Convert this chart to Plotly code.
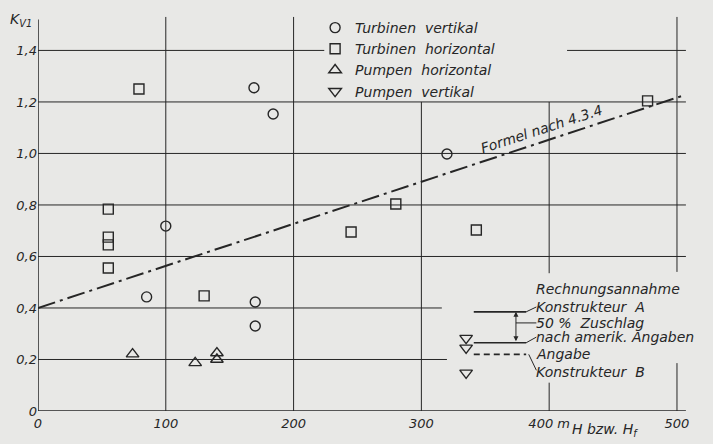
"""K_V1 ueber Fallhoehe H: Messpunkte, Formel nach 4.3.4 und Rechnungsannahmen."""

import plotly.graph_objects as go

INK = "#262626"
PAPER = "#e8e8e6"
FONT = "DejaVu Sans"

# Turbinen vertikal (Kreise)
tv_h = [100, 85, 169, 184, 170, 170, 320]
tv_k = [0.718, 0.443, 1.255, 1.153, 0.423, 0.33, 0.998]

# Turbinen horizontal (Quadrate)
th_h = [79, 55, 55, 55, 55, 130, 245, 280, 343, 477]
th_k = [1.25, 0.784, 0.675, 0.645, 0.555, 0.447, 0.695, 0.804, 0.703, 1.204]

# Pumpen horizontal (Dreieck oben)
ph_h = [74, 123, 140, 140]
ph_k = [0.221, 0.187, 0.225, 0.200]

# Pumpen vertikal (Dreieck unten)
pv_h = [335, 335, 335]
pv_k = [0.283, 0.245, 0.148]

# Formel nach 4.3.4
formel_h = [0, 505]
formel_k = [0.40, 1.225]

# Rechnungsannahmen rechts
ref_h = [341, 382]
konst_a_k = 0.385
amerik_k = 0.265
konst_b_k = 0.22

x_ticks = [0, 100, 200, 300, 400, 500]
x_labels = ["0", "100", "200", "300", "400 m", "500"]
y_ticks = [0, 0.2, 0.4, 0.6, 0.8, 1.0, 1.2, 1.4]
y_labels = ["0", "0,2", "0,4", "0,6", "0,8", "1,0", "1,2", "1,4"]

fig = go.Figure()

marker_line = {"color": INK, "width": 1.4}
fig.add_trace(go.Scatter(x=tv_h, y=tv_k, mode="markers", name="Turbinen  vertikal",
                         marker={"symbol": "circle-open", "size": 10, "line": marker_line, "color": INK}))
fig.add_trace(go.Scatter(x=th_h, y=th_k, mode="markers", name="Turbinen  horizontal",
                         marker={"symbol": "square-open", "size": 10, "line": marker_line, "color": INK}))
fig.add_trace(go.Scatter(x=ph_h, y=ph_k, mode="markers", name="Pumpen  horizontal",
                         marker={"symbol": "triangle-up-open", "size": 11, "line": marker_line, "color": INK}))
fig.add_trace(go.Scatter(x=pv_h, y=pv_k, mode="markers", name="Pumpen  vertikal",
                         marker={"symbol": "triangle-down-open", "size": 11, "line": marker_line, "color": INK}))

fig.add_trace(go.Scatter(x=formel_h, y=formel_k, mode="lines", showlegend=False,
                         line={"color": INK, "width": 2, "dash": "18px,5px,3px,5px"}))

# Referenzlinien
for k, dash in [(konst_a_k, "solid"), (amerik_k, "solid"), (konst_b_k, "6px,4px")]:
    fig.add_trace(go.Scatter(x=ref_h, y=[k, k], mode="lines", showlegend=False,
                             line={"color": INK, "width": 1.6, "dash": dash}))

# Gitter (teilweise unterbrochen wie im Original)
grid_h = [(0.2, 0, 320), (0.4, 0, 316), (0.6, 0, 507), (0.8, 0, 507), (1.0, 0, 507),
          (1.2, 0, 507), (1.4, 0, 224), (1.4, 414, 507)]
grid_v = [(100, 0, 1.53), (200, 0, 1.53), (300, 0, 1.2), (400, 0.535, 1.2), (400, 0, 0.11),
          (500, 0.54, 1.53), (500, 0, 0.186)]
shapes = []
for k, h0, h1 in grid_h:
    shapes.append(dict(type="line", xref="x", yref="y", x0=h0, x1=h1, y0=k, y1=k,
                       line={"color": INK, "width": 1}))
for h, k0, k1 in grid_v:
    shapes.append(dict(type="line", xref="x", yref="y", x0=h, x1=h, y0=k0, y1=k1,
                       line={"color": INK, "width": 1}))
# Achsen
shapes.append(dict(type="line", xref="x", yref="y", x0=0, x1=507, y0=0, y1=0,
                   line={"color": INK, "width": 1.5}))
shapes.append(dict(type="line", xref="x", yref="y", x0=0, x1=0, y0=0, y1=1.52,
                   line={"color": INK, "width": 1.5}))
# Hinweislinien zu den Texten
shapes.append(dict(type="line", xref="x", yref="y", x0=382, x1=390, y0=konst_a_k, y1=0.404,
                   line={"color": INK, "width": 1}))
shapes.append(dict(type="line", xref="x", yref="y", x0=382, x1=390, y0=amerik_k, y1=0.287,
                   line={"color": INK, "width": 1}))
shapes.append(dict(type="line", xref="x", yref="y", x0=374, x1=390, y0=0.342, y1=0.342,
                   line={"color": INK, "width": 1}))
shapes.append(dict(type="line", xref="x", yref="y", x0=384, x1=390, y0=konst_b_k, y1=0.158,
                   line={"color": INK, "width": 1}))

text_font = {"family": FONT, "size": 14, "color": INK, "style": "italic"}

annotations = [
    dict(x=374, y=konst_a_k, ax=374, ay=amerik_k, xref="x", yref="y", axref="x", ayref="y",
         text="", showarrow=True, arrowhead=2, arrowside="end+start", arrowsize=1,
         arrowwidth=1, arrowcolor=INK),
    dict(x=394, y=1.095, xref="x", yref="y", text="Formel nach 4.3.4", showarrow=False,
         textangle=-18, font=text_font),
    dict(x=0, y=1.52, xref="paper", yref="y", text="K<sub>V1</sub>", showarrow=False,
         xanchor="right", xshift=-4, font=text_font),
    dict(x=444, y=-0.047, xref="x", yref="paper", text="H bzw. H<sub>f</sub>", showarrow=False,
         yanchor="middle", font=text_font),
]
ref_texts = [
    (0.474, "Rechnungsannahme"),
    (0.404, "Konstrukteur  A"),
    (0.342, "50 %  Zuschlag"),
    (0.287, "nach amerik. Angaben"),
    (0.221, "Angabe"),
    (0.151, "Konstrukteur  B"),
]
for k, t in ref_texts:
    annotations.append(dict(x=388, y=k, xref="x", yref="y", text=t, showarrow=False,
                            xanchor="left", font=text_font))

tick_font = {"family": FONT, "size": 13, "color": INK, "style": "italic"}

fig.update_layout(
    width=713,
    height=444,
    margin={"l": 38, "r": 23, "t": 10, "b": 33},
    paper_bgcolor=PAPER,
    plot_bgcolor=PAPER,
    font={"family": FONT, "color": INK},
    xaxis={"range": [0, 510.2], "showgrid": False, "zeroline": False, "showline": False,
           "tickvals": x_ticks, "ticktext": x_labels, "tickfont": tick_font, "ticks": "",
           "automargin": False, "ticklabelstandoff": 3},
    yaxis={"range": [0, 1.557], "showgrid": False, "zeroline": False, "showline": False,
           "tickvals": y_ticks, "ticktext": y_labels, "tickfont": tick_font, "ticks": "",
           "automargin": False},
    legend={"x": 0.425, "y": 0.995, "xanchor": "left", "yanchor": "top",
            "bgcolor": "rgba(0,0,0,0)", "font": tick_font | {"size": 14}, "tracegroupgap": 0},
    shapes=shapes,
    annotations=annotations,
    showlegend=True,
)

# Seitenrand des Browsers entfernen, damit die Grafik bei (0, 0) beginnt
fig.write_html("out.html", config={"displayModeBar": False},
               post_script="document.body.style.margin='0';")
